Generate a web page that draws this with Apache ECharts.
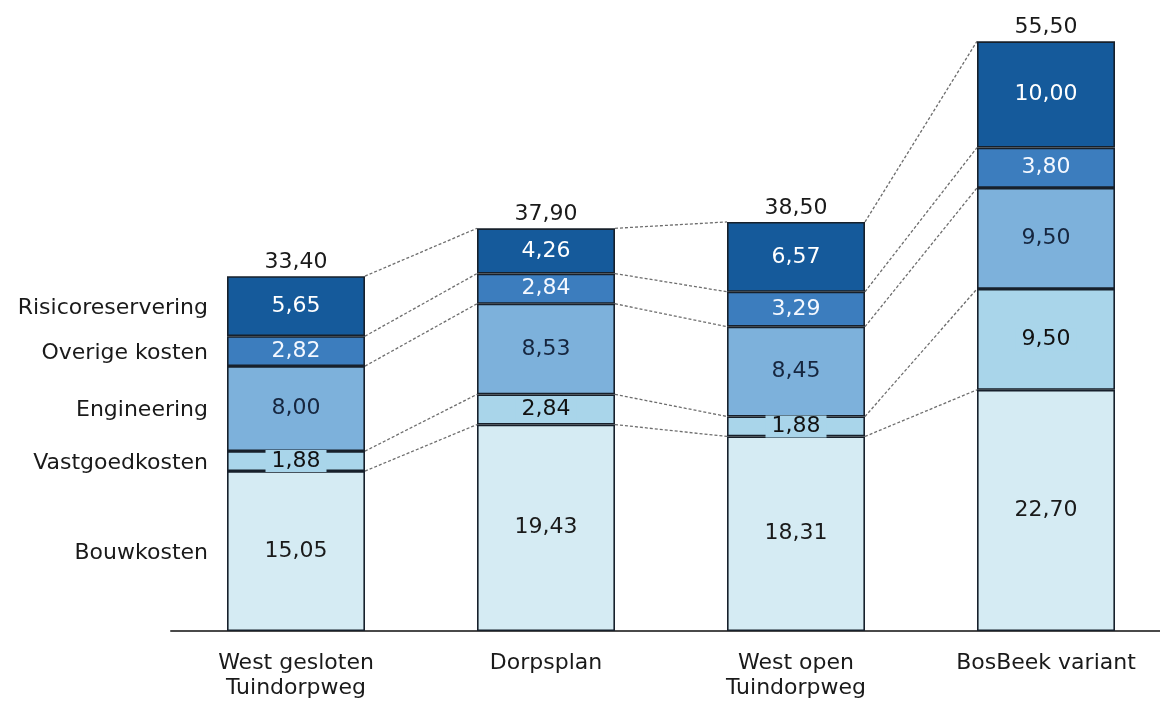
<!DOCTYPE html>
<html><head><meta charset="utf-8">
<script src="https://cdn.jsdelivr.net/npm/echarts@6/dist/echarts.min.js"></script>
<style>html,body{margin:0;padding:0;background:#fff;overflow:hidden;width:1160px;height:701px}#c{width:1171px;height:701px}</style>
</head><body><div id="c"></div>
<script>
const categories = ['West gesloten\nTuindorpweg', 'Dorpsplan', 'West open\nTuindorpweg', 'BosBeek variant'];
const seriesNames = ['Bouwkosten', 'Vastgoedkosten', 'Engineering', 'Overige kosten', 'Risicoreservering'];
const bouwkosten = [15.05, 19.43, 18.31, 22.70];
const vastgoedkosten = [1.88, 2.84, 1.88, 9.50];
const engineering = [8.00, 8.53, 8.45, 9.50];
const overigeKosten = [2.82, 2.84, 3.29, 3.80];
const risicoreservering = [5.65, 4.26, 6.57, 10.00];
const totals = [33.40, 37.90, 38.50, 55.50];

const values = [bouwkosten, vastgoedkosten, engineering, overigeKosten, risicoreservering];
const colors = ['#d5ebf3', '#a9d5ea', '#7db1db', '#3c7dbe', '#155a9b'];
const labelColors = ['#1a1a1a', '#111111', '#16263f', '#f4f8ff', '#ffffff'];
const FONT = 'DejaVu Sans';
const BAR_W = 138;
const fmt = v => v.toFixed(2).replace('.', ',');

const cum = values.map((arr, k) => arr.map((v, i) => {
  let s = 0; for (let j = 0; j <= k; j++) s += values[j][i]; return s;
}));

const connData = [];
for (let k = 0; k < values.length; k++) {
  for (let i = 0; i < categories.length - 1; i++) {
    connData.push([i, cum[k][i], cum[k][i + 1]]);
  }
}
const nameData = seriesNames.map((n, k) => [0, cum[k][0] - values[k][0] / 2, k]);
const totalData = totals.map((t, i) => [i, t]);

const barSeries = seriesNames.map((name, k) => ({
  name, type: 'bar', stack: 'total', barWidth: BAR_W,
  data: values[k],
  itemStyle: { color: colors[k], borderColor: '#17202b', borderWidth: 1.6 },
  label: {
    show: true, position: 'inside', formatter: p => fmt(p.value),
    color: labelColors[k], fontFamily: FONT, fontSize: 22, lineHeight: 22,
    backgroundColor: k === 1 ? colors[k] : 'transparent', padding: k === 1 ? [0, 6] : 0
  },
  emphasis: { disabled: true }, silent: true, z: 3
}));

const option = {
  animation: false,
  grid: { left: 171, right: 0, top: 36, bottom: 69, containLabel: false },
  xAxis: {
    type: 'category', data: categories,
    axisLine: { show: true, lineStyle: { color: '#4a4a4a', width: 2 } },
    axisTick: { show: false },
    axisLabel: { color: '#1a1a1a', fontFamily: FONT, fontSize: 22, lineHeight: 25, margin: 20, interval: 0 }
  },
  yAxis: { type: 'value', min: 0, max: 56, show: false },
  series: barSeries.concat([
    {
      type: 'custom', name: 'connectors', data: connData, silent: true, z: 2,
      encode: { x: 0, y: 1 },
      renderItem: (params, api) => {
        const i = api.value(0);
        const a = api.coord([i, api.value(1)]);
        const b = api.coord([i + 1, api.value(2)]);
        return { type: 'line', shape: { x1: a[0] + BAR_W / 2, y1: a[1], x2: b[0] - BAR_W / 2, y2: b[1] },
          style: { stroke: '#6e6e6e', lineWidth: 1.3, lineDash: [3, 2] } };
      }
    },
    {
      type: 'custom', name: 'names', data: nameData, silent: true, z: 4,
      encode: { x: 0, y: 1 },
      renderItem: (params, api) => {
        const p = api.coord([api.value(0), api.value(1)]);
        return { type: 'text', style: { x: p[0] - BAR_W / 2 - 19, y: p[1] + 2, text: seriesNames[api.value(2)],
          align: 'right', verticalAlign: 'middle', fill: '#1a1a1a', font: '22px "' + FONT + '"' } };
      }
    },
    {
      type: 'custom', name: 'totals', data: totalData, silent: true, z: 4,
      encode: { x: 0, y: 1 },
      renderItem: (params, api) => {
        const p = api.coord([api.value(0), api.value(1)]);
        return { type: 'text', style: { x: p[0], y: p[1] - 3, text: fmt(api.value(1)),
          align: 'center', verticalAlign: 'bottom', fill: '#1a1a1a', font: '22px "' + FONT + '"' } };
      }
    }
  ])
};
const chart = echarts.init(document.getElementById('c'));
chart.setOption(option);
</script></body></html>
